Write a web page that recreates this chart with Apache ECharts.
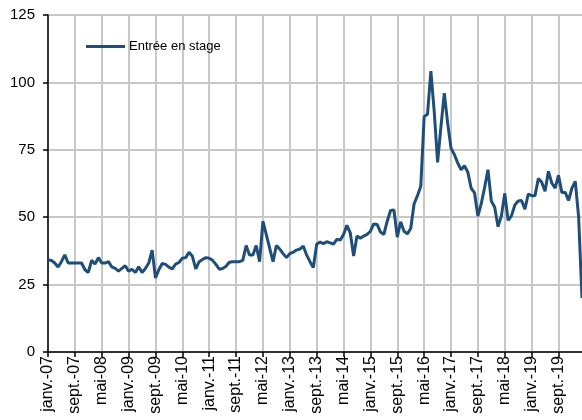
<!DOCTYPE html>
<html>
<head>
<meta charset="utf-8">
<script src="https://cdn.jsdelivr.net/npm/echarts@6/dist/echarts.min.js"></script>
<style>html,body{margin:0;padding:0;background:#fff}#c{width:582px;height:420px}</style>
</head>
<body>
<div id="c"></div>
<script>
// Month abbreviations and years used for category labels
const monthNames = ['janv.', 'févr.', 'mars', 'avr.', 'mai', 'juin', 'juil.', 'août', 'sept.', 'oct.', 'nov.', 'déc.'];
const startYear = 2007;
const seriesName = 'Entrée en stage';
// Monthly values, janv.-07 .. avr.-20
const values = [
  34, 34, 33, 31.5, 33.5, 36, 33, 33, 33, 33, 33, 30.5,
  29.5, 34, 32.6, 35, 33, 33, 33.5, 31.6, 31, 30, 31, 32,
  30, 30.7, 29.5, 31.6, 29.5, 31, 33, 37.8, 27.5, 30.5, 32.8, 32.5,
  31.5, 30.8, 32.6, 33.2, 34.8, 35, 37, 35.5, 30.8, 33.5, 34.3, 35,
  34.8, 34, 32.5, 30.7, 31, 31.8, 33.3, 33.5, 33.5, 33.5, 34, 39.5,
  36, 36, 39.5, 33.5, 48.5, 43.5, 38.5, 33.5, 39.5, 38.2, 36.5, 35,
  36.5, 37, 37.8, 38.2, 39.3, 36, 33.5, 31.3, 40, 40.8, 40.2, 40.9,
  40.5, 40, 41.8, 41.5, 43.6, 47, 44.2, 35.6, 43, 42.2, 43, 43.6,
  44.8, 47.5, 47.3, 44.5, 43.6, 48.5, 52.5, 52.7, 42.6, 48.3, 44.8, 43.8,
  45.8, 54.9, 58, 61.5, 87.3, 88.2, 104.2, 89.2, 70.3, 83.6, 96, 84.9,
  75.6, 73.2, 70.1, 67.6, 69.1, 66.7, 60.8, 59, 50.4, 55, 61, 67.6,
  56, 53.7, 46.5, 50.5, 58.8, 48.8, 50.5, 54.5, 56, 56.2, 53, 58.6,
  58, 58, 64.3, 63, 59.6, 67, 62.7, 60.8, 65.5, 59.2, 59.2, 56.2,
  60.8, 63.3, 50, 20
];
const categories = values.map((v, i) => {
  const m = i % 12, y = startYear + Math.floor(i / 12);
  return monthNames[m] + '-' + String(y % 100).padStart(2, '0');
});

const font = "'Liberation Sans', Arial, sans-serif";
const chart = echarts.init(document.getElementById('c'));
chart.setOption({
  animation: false,
  textStyle: { fontFamily: font },
  grid: { left: 48, right: 0, top: 15, bottom: 68, containLabel: false },
  legend: {
    left: 86, top: 40, padding: 0,
    icon: 'rect', itemWidth: 39, itemHeight: 3, itemGap: 4,
    textStyle: { fontFamily: font, fontSize: 13, color: '#000', padding: [0, 0, 0, -1] },
    data: [seriesName]
  },
  xAxis: {
    type: 'category',
    data: categories,
    boundaryGap: false,
    axisLine: { lineStyle: { color: '#000', width: 1.5 } },
    axisTick: { interval: 7, length: 5, lineStyle: { color: '#000', width: 1.5 } },
    axisLabel: { interval: 7, rotate: 90, fontSize: 16, color: '#000', fontFamily: font, margin: 4 },
    splitLine: { show: true, interval: 7, lineStyle: { color: '#c8c8c8', width: 2 } }
  },
  yAxis: {
    type: 'value', min: 0, max: 125, interval: 25,
    axisLine: { show: true, lineStyle: { color: '#000', width: 1.5 } },
    axisTick: { show: true, length: 5, lineStyle: { color: '#000', width: 1.5 } },
    axisLabel: { fontSize: 15, color: '#000', fontFamily: font, margin: 13 },
    splitLine: { show: true, lineStyle: { color: '#c8c8c8', width: 2 } }
  },
  series: [{
    name: seriesName,
    type: 'line',
    data: values,
    symbol: 'none',
    lineStyle: { color: '#1f4e79', width: 3 },
    itemStyle: { color: '#1f4e79' }
  }]
});
</script>
</body>
</html>
